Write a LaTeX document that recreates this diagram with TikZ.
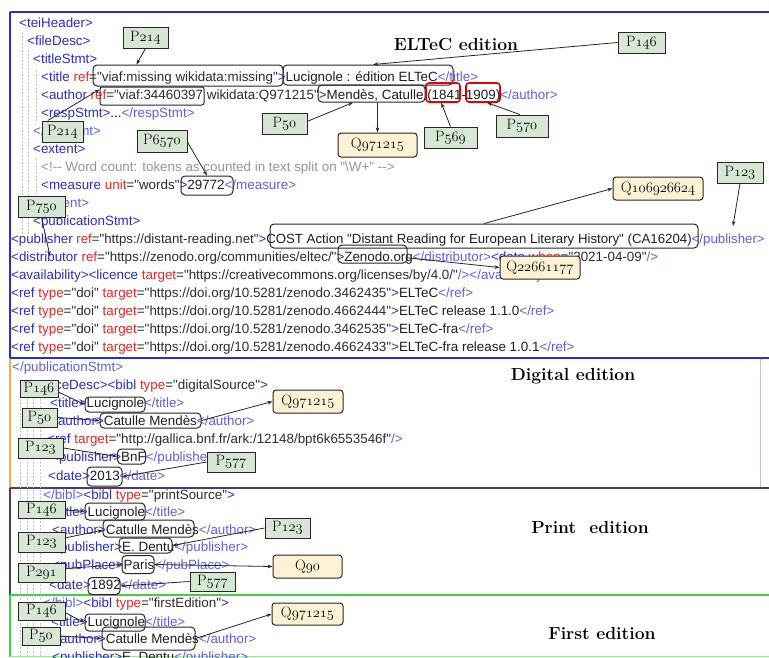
\documentclass[tikz,border=0pt]{standalone}
\usepackage{fontspec}
\newfontfamily\xmlff{Liberation Sans}
\usetikzlibrary{arrows.meta,calc}
\definecolor{tagc}{RGB}{45,45,200}
\definecolor{etagc}{RGB}{95,95,235}
\definecolor{attc}{RGB}{230,40,40}
\definecolor{valc}{RGB}{45,45,45}
\definecolor{txtc}{RGB}{30,30,30}
\definecolor{cmtc}{RGB}{150,150,150}
\definecolor{pgreen}{RGB}{214,232,212}
\definecolor{qorange}{RGB}{255,241,212}
\definecolor{fblue}{RGB}{45,45,205}
\definecolor{forange}{RGB}{245,170,70}
\definecolor{fpurple}{RGB}{85,55,105}
\definecolor{fgreen}{RGB}{70,205,70}
\newcommand\xT[1]{\textcolor{tagc}{#1}}
\newcommand\xE[1]{\textcolor{etagc}{#1}}
\newcommand\xA[1]{\textcolor{attc}{#1}}
\newcommand\xV[1]{\textcolor{valc}{#1}}
\newcommand\osn[1]{{\fontencoding{OML}\fontfamily{cmm}\fontseries{m}\fontshape{it}\selectfont #1}}
\newcommand\xmlfont{\xmlff\fontsize{13.4}{16}\selectfont}
\newcommand\lbl{\fontsize{15}{17}\selectfont}
\newcommand\secfont{\fontsize{17.5}{20}\selectfont\bfseries}
\tikzset{
 pl/.style={draw=black!85, line width=1pt, fill=pgreen, inner sep=1pt, font=\lbl, text=black},
 ql/.style={draw=black!85, line width=1pt, fill=qorange, rounded corners=3pt, inner sep=1pt, font=\lbl, text=black},
 hl/.style={draw=black!85, line width=1pt, rounded corners=4pt, inner sep=0pt},
 rhl/.style={draw=red!90!black, line width=1.6pt, rounded corners=3pt, inner sep=0pt},
 conn/.style={-{Stealth[length=5pt,width=3.6pt]}, line width=0.8pt, black!85},
 xml/.style={anchor=base west, inner sep=0pt, font=\xmlfont, text=txtc},
 sect/.style={anchor=base, inner sep=0pt, font=\secfont, text=black},
 guide/.style={gray!45, line width=0.5pt, dash pattern=on 2pt off 1.5pt}
}
\begin{document}
\begin{tikzpicture}[x=1pt,y=-1pt]
\useasboundingbox (0,0) rectangle (769,657);
\clip (0,0) rectangle (769,657);
\fill[white] (0,0) rectangle (769,657);
% frames
\draw[fblue, line width=2pt] (10,12) -- (780,12);
\draw[fblue, line width=2pt] (10,12) -- (10,358);
\draw[forange, line width=2pt] (10,359) -- (10,488);
\draw[fblue!30, line width=0.8pt] (760,359) -- (760,488);
\draw[fpurple, line width=2pt] (10,488) -- (10,595);
\draw[fgreen, line width=2pt] (10,595) -- (10,657);
\draw[fgreen!50, line width=1pt] (10,656) -- (780,656);
\draw[fblue, line width=2.5pt] (10,358) -- (780,358);
\draw[fpurple, line width=2.2pt] (10,488) -- (780,488);
\draw[fgreen, line width=2.5pt] (10,595) -- (780,595);
% guides
\draw[guide] (22,32) -- (22,235);
\draw[guide] (28,50) -- (28,235);
\draw[guide] (36,70) -- (36,122);
\draw[guide] (36,158) -- (36,197);
\foreach \gx in {20,27,33,40} \draw[guide] (\gx,395) -- (\gx,657);
% section titles
\node[sect] (tel) at (456,50) {ELTeC edition};
\node[sect] (tdi) at (573,380) {Digital edition};
\node[sect] (tpr) at (590,533) {Print\ \ edition};
\node[sect] (tfi) at (602,639) {First edition};
% xml text
\node[xml] (l0) at (19,27) {\xT{<teiHeader>}};
\node[xml] (l1) at (27,45) {\xT{<fileDesc>}};
\node[xml] (l2) at (33,63) {\xT{<titleStmt>}};
\node[xml] (l3) at (41,81) {\xT{<title }\xA{ref}\xV{="viaf:missing wikidata:missing"}\xT{>}Lucignole : édition ELTeC\xE{</title>}};
\node[xml] (l4) at (41,99) {\xT{<author }\xA{ref}\xV{="viaf:34460397 wikidata:Q971215"}\xT{>}Mendès, Catulle (1841-1909)\xE{</author>}};
\node[xml] (l5) at (41,117) {\xT{<respStmt>}...\xE{</respStmt>}};
\node[xml] (l6) at (33,135) {\xE{</titleStmt>}};
\node[xml] (l7) at (33,153) {\xT{<extent>}};
\node[xml, text=cmtc] (l8) at (41,171) {<!-{}- Word count: tokens as counted in text split on "\textbackslash W+" -{}->};
\node[xml] (l9) at (41,189) {\xT{<measure }\xA{unit}\xV{="words"}\xT{>}29772\xE{</measure>}};
\node[xml] (l10) at (33,207) {\xE{</extent>}};
\node[xml] (l11) at (33,225) {\xT{<publicationStmt>}};
\node[xml, font=\xmlff\fontsize{13.25}{16}\selectfont] (l12) at (11,243) {\xT{<publisher }\xA{ref}\xV{="https://distant-reading.net"}\xT{>}COST Action "Distant Reading for European Literary History" (CA16204)\xE{</publisher>}};
\node[xml] (l13) at (11,261) {\xT{<distributor }\xA{ref}\xV{="https://zenodo.org/communities/eltec/"}\xT{>}Zenodo.org\xE{</distributor>}\xT{<date }\xA{when}\xV{="2021-04-09"}\xE{/>}};
\node[xml] (l14) at (11,279) {\xT{<availability><licence }\xA{target}\xV{="https://creativecommons.org/licenses/by/4.0/"}\xE{/></availability>}};
\node[xml] (l15) at (11,297) {\xT{<ref }\xA{type}\xV{="doi" }\xA{target}\xV{="https://doi.org/10.5281/zenodo.3462435"}\xT{>}ELTeC\xE{</ref>}};
\node[xml] (l16) at (11,315) {\xT{<ref }\xA{type}\xV{="doi" }\xA{target}\xV{="https://doi.org/10.5281/zenodo.4662444"}\xT{>}ELTeC release 1.1.0\xE{</ref>}};
\node[xml] (l17) at (11,333) {\xT{<ref }\xA{type}\xV{="doi" }\xA{target}\xV{="https://doi.org/10.5281/zenodo.3462535"}\xT{>}ELTeC-fra\xE{</ref>}};
\node[xml] (l18) at (11,351) {\xT{<ref }\xA{type}\xV{="doi" }\xA{target}\xV{="https://doi.org/10.5281/zenodo.4662433"}\xT{>}ELTeC-fra release 1.0.1\xE{</ref>}};
\node[xml] (l19) at (12,371) {\xE{</publicationStmt>}};
\node[xml] (l20) at (21,389.5) {\xT{<sourceDesc><bibl }\xA{type}\xV{="digitalSource"}\xT{>}};
\node[xml] (l21) at (50,407) {\xT{<title>}Lucignole\xE{</title>}};
\node[xml] (l22) at (50,425) {\xT{<author>}Catulle Mendès\xE{</author>}};
\node[xml] (l23) at (47,443) {\xT{<ref }\xA{target}\xV{="http://gallica.bnf.fr/ark:/12148/bpt6k6553546f"}\xE{/>}};
\node[xml] (l24) at (51,461) {\xT{<publisher>}BnF\xE{</publisher>}};
\node[xml] (l25) at (48,480) {\xT{<date>}2013\xE{</date>}};
\node[xml] (l26) at (43,499) {\xE{</bibl>}\xT{<bibl }\xA{type}\xV{="printSource"}\xT{>}};
\node[xml] (l27) at (51,516) {\xT{<title>}Lucignole\xE{</title>}};
\node[xml] (l28) at (52,534) {\xT{<author>}Catulle Mendès\xE{</author>}};
\node[xml] (l29) at (52,551) {\xT{<publisher>}E. Dentu\xE{</publisher>}};
\node[xml] (l30) at (52,569) {\xT{<pubPlace>}Paris\xE{</pubPlace>}};
\node[xml] (l31) at (49,589.5) {\xT{<date>}1892\xE{</date>}};
\node[xml] (l32) at (43,607) {\xE{</bibl>}\xT{<bibl }\xA{type}\xV{="firstEdition"}\xT{>}};
\node[xml] (l33) at (51,626) {\xT{<title>}Lucignole\xE{</title>}};
\node[xml] (l34) at (52,643) {\xT{<author>}Catulle Mendès\xE{</author>}};
\node[xml] (l35) at (52,661) {\xT{<publisher>}E. Dentu\xE{</publisher>}};
% highlight boxes
\node[hl, minimum width=190pt, minimum height=21pt] (hvm) at (188,75.5) {};
\node[hl, minimum width=170pt, minimum height=20pt] (htitle) at (368,75) {};
\node[hl, rounded corners=2pt, minimum width=104pt, minimum height=18pt] (hviaf) at (152,96) {};
\node[hl, minimum width=107pt, minimum height=17pt] (hmend) at (371.5,93.5) {};
\node[rhl, minimum width=34pt, minimum height=19pt] (r1841) at (443,92.5) {};
\node[rhl, minimum width=34pt, minimum height=19pt] (r1909) at (483,92.5) {};
\node[hl, minimum width=52pt, minimum height=19pt] (h29772) at (207,185.5) {};
\node[hl, minimum width=428pt, minimum height=24pt] (hcost) at (484,236) {};
\node[hl, minimum width=69pt, minimum height=18pt] (hzen) at (372.5,254) {};
\node[hl, minimum width=60pt, minimum height=15pt] (lucb) at (115,404.5) {};
\node[hl, minimum width=101pt, minimum height=15pt] (catb) at (150.5,420.5) {};
\node[hl, minimum width=28pt, minimum height=15pt] (bnf) at (131.5,456.5) {};
\node[hl, minimum width=35pt, minimum height=19pt] (d2013) at (104.5,476.5) {};
\node[hl, minimum width=60pt, minimum height=17pt] (lucc) at (115,511.5) {};
\node[hl, minimum width=91pt, minimum height=17pt] (catc) at (148.5,528.5) {};
\node[hl, minimum width=53pt, minimum height=15pt] (dentu) at (145.5,545.5) {};
\node[hl, minimum width=32pt, minimum height=18pt] (paris) at (138,564.5) {};
\node[hl, minimum width=32pt, minimum height=17pt] (d1892) at (104,586) {};
\node[hl, minimum width=60pt, minimum height=17pt] (lucd) at (115,622.5) {};
\node[hl, minimum width=93pt, minimum height=23pt] (catd) at (148.5,638.5) {};
% label boxes
\node[pl, minimum width=45pt, minimum height=21pt] (P214a) at (145.5,37.5) {P\osn{214}};
\node[pl, minimum width=47pt, minimum height=21pt] (P146a) at (641.5,42.5) {P\osn{146}};
\node[pl, minimum width=45pt, minimum height=21pt] (P50a) at (284.5,123.5) {P\osn{50}};
\node[pl, minimum width=53pt, minimum height=21pt] (P569) at (450.5,137.5) {P\osn{569}};
\node[pl, minimum width=52pt, minimum height=22pt] (P570) at (522,126) {P\osn{570}};
\node[ql, minimum width=79pt, minimum height=24pt] (Qa) at (377.5,145) {Q\osn{971215}};
\node[pl, minimum width=41pt, minimum height=21pt] (P214b) at (62.5,131.5) {P\osn{214}};
\node[pl, minimum width=50pt, minimum height=22pt] (P6570) at (162,141) {P\osn{6570}};
\node[pl, minimum width=47pt, minimum height=21pt] (P750) at (41.5,206.5) {P\osn{750}};
\node[pl, minimum width=46pt, minimum height=21pt] (P123a) at (740,172.5) {P\osn{123}};
\node[ql, minimum width=90pt, minimum height=23pt] (Qb) at (658,188.5) {Q\osn{106926624}};
\node[ql, minimum width=80pt, minimum height=23pt] (Qc) at (540,267.5) {Q\osn{22661177}};
\node[pl, minimum width=38pt, minimum height=17pt] (P146b) at (39,388.5) {P\osn{146}};
\node[pl, minimum width=35pt, minimum height=19pt] (P50b) at (39.5,417.5) {P\osn{50}};
\node[pl, minimum width=45pt, minimum height=20pt] (P123b) at (40.5,448) {P\osn{123}};
\node[pl, minimum width=48pt, minimum height=20pt] (P577b) at (231,462) {P\osn{577}};
\node[ql, minimum width=70pt, minimum height=23pt] (Qd) at (308,401.5) {Q\osn{971215}};
\node[pl, minimum width=47pt, minimum height=17pt] (P146c) at (41.5,510) {P\osn{146}};
\node[pl, minimum width=47pt, minimum height=20pt] (P123c) at (41.5,542) {P\osn{123}};
\node[pl, minimum width=45pt, minimum height=20pt] (P123d) at (287.5,528) {P\osn{123}};
\node[pl, minimum width=47pt, minimum height=19pt] (P291) at (41.5,572.5) {P\osn{291}};
\node[ql, minimum width=69pt, minimum height=23pt] (Qe) at (307.5,566.5) {Q\osn{90}};
\node[pl, minimum width=45pt, minimum height=19pt] (P577c) at (212.5,581.5) {P\osn{577}};
\node[pl, minimum width=47pt, minimum height=18pt] (P146d) at (41.5,611) {P\osn{146}};
\node[pl, minimum width=38pt, minimum height=18pt] (P50d) at (41,636) {P\osn{50}};
\node[ql, minimum width=71pt, minimum height=22pt] (Qf) at (307.5,614) {Q\osn{971215}};
% connectors
\draw[conn] (P214a.south) -- ($(hvm.north west)!0.23!(hvm.north east)$);
\draw[conn] (P146a.west) -- ($(htitle.north west)!0.53!(htitle.north east)$);
\draw[conn] ($(P214b.north west)!0.15!(P214b.north east)$) -- ([yshift=-3pt]hviaf.north west);
\draw[conn] ($(P50a.north east)!0.4!(P50a.south east)$) -- ($(hmend.south west)!0.33!(hmend.south east)$);
\draw[conn] (Qa.north |- hmend.south) -- (Qa.north);
\draw[conn] (P569.north) -- ($(r1841.south west)!0.45!(r1841.south east)$);
\draw[conn] ($(P570.north west)!0.46!(P570.north east)$) -- ($(r1909.south west)!0.62!(r1909.south east)$);
\draw[conn] ($(P6570.north east)!0.55!(P6570.south east)$) -- (h29772.north);
\coordinate (distpt) at (50,256);
\draw[conn] (P750.south) -- (distpt);
\coordinate (pubend) at (733,226);
\draw[conn] (P123a.south) -- (pubend);
\draw[conn] (hcost.north) -- (Qb.west);
\draw[conn] ($(hzen.north east)!0.7!(hzen.south east)$) -- (Qc.west);
\draw[conn] ($(P146b.north east)!0.7!(P146b.south east)$) -- (lucb.west);
\draw[conn] (P50b.east) -- (catb.west);
\draw[conn] (catb.east) -- (Qd.west);
\draw[conn] (P123b.east) -- (bnf.west);
\draw[conn] (P577b.west) -- (d2013.east);
\draw[conn] (P146c.east) -- (lucc.west);
\draw[conn] ($(P123c.north east)!0.3!(P123c.south east)$) -- ($(catc.north west)!0.6!(catc.south west)$);
\draw[conn] (P123d.west) -- (dentu.east);
\draw[conn] ($(P291.north east)!0.3!(P291.south east)$) -- (paris.west);
\draw[conn] (paris.east) -- (Qe.west);
\draw[conn] (P577c.west) -- (d1892.east);
\draw[conn] ($(P146d.north east)!0.6!(P146d.south east)$) -- (lucd.west);
\draw[conn] (P50d.east) -- (catd.west);
\draw[conn] (catd.east) -- (Qf.west);
\end{tikzpicture}
\end{document}
